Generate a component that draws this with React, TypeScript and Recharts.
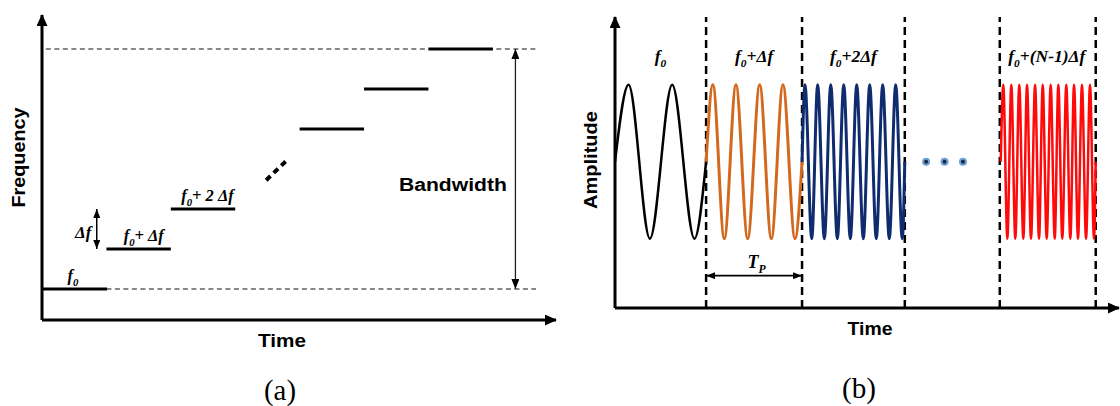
import React from 'react';
import { LineChart, Line, XAxis, YAxis, ReferenceLine, ReferenceDot } from 'recharts';

// ---------- Panel (a): stepped frequency vs time ----------
const stepStart = [0, 1, 2, 4, 5, 6];
const stepEnd = [1.01, 2, 3, 5, 6, 7];
const stepLevel = [0, 1, 2, 4, 5, 6];
const stepLabels = ['f_0', 'f_0+ Δf', 'f_0+ 2 Δf', '', '', ''];
const stepLabelT = [0.48, 1.58, 2.57, 0, 0, 0];
const bandLow = 0;
const bandHigh = 6;
const guideTopStart = 0.06;
const guideLowStart = 1;
const guideEnd = 7.67;
const bandwidthT = 7.35;
const bandwidthLabelPos = { t: 6.38, f: 2.6 };
const deltaArrowT = 0.85;
const deltaLabelPos = { t: 0.64, f: 1.5 };
const ellipsisFrom = { t: 3.48, f: 2.72 };
const ellipsisTo = { t: 3.79, f: 3.2 };

// ---------- Panel (b): amplitude vs time ----------
const blackT = [0, 0.14, 0.36, 0.59, 0.82, 0.94];
const blackA = [0, 1, -1, 1, -1, 0];
const orangeT = [0.94, 1.01, 1.128, 1.248, 1.369, 1.493, 1.613, 1.733, 1.857, 1.93];
const orangeA = [0, 1, -1, 1, -1, 1, -1, 1, -1, 0];
const blueT = [1.93, 1.96, 2.03, 2.091, 2.16, 2.226, 2.294, 2.36, 2.428, 2.494, 2.562, 2.628, 2.696, 2.762, 2.83, 2.896, 2.964, 2.99];
const blueA = [0, 1, -1, 1, -1, 1, -1, 1, -1, 1, -1, 1, -1, 1, -1, 1, -1, 0];
const redT = [3.98, 4.006, 4.048, 4.089, 4.13, 4.171, 4.213, 4.251, 4.292, 4.334, 4.375, 4.413, 4.454, 4.495, 4.537, 4.574, 4.615, 4.656, 4.698, 4.736, 4.777, 4.818, 4.86, 4.901, 4.942, 4.96];
const redA = [0, 1, -1, 1, -1, 1, -1, 1, -1, 1, -1, 1, -1, 1, -1, 1, -1, 1, -1, 1, -1, 1, -1, 1, -1, 0];
const pulseBoundaries = [0.94, 1.93, 2.99, 3.97, 4.96];
const pulseLabelT = [0.47, 1.435, 2.46, 4.455];
const pulseLabels = ['f_0', 'f_0+Δf', 'f_0+2Δf', 'f_0+(N-1)Δf'];
const pulseLabelA = 1.3;
const tpFrom = 0.94;
const tpTo = 1.93;
const tpA = -1.48;
const tpLabelT = 1.46;
const dotsT = [3.21, 3.4, 3.59];

const SERIF = '"Liberation Serif", "Times New Roman", serif';
const SANS = '"Liberation Sans", Arial, sans-serif';

const toPts = (ts: number[], as: number[]) => ts.map((t, i) => ({ t, a: as[i] }));
const blackData = toPts(blackT, blackA);
const orangeData = toPts(orangeT, orangeA);
const blueData = toPts(blueT, blueA);
const redData = toPts(redT, redA);

function MathText({ x, y, label, fs, anchor = 'middle' }: any) {
  const parts: { s: string; sub?: boolean }[] = [];
  let buf = '';
  for (let i = 0; i < label.length; i++) {
    if (label[i] === '_') {
      if (buf) parts.push({ s: buf });
      buf = '';
      parts.push({ s: label[i + 1], sub: true });
      i++;
    } else buf += label[i];
  }
  if (buf) parts.push({ s: buf });
  const shift = fs * 0.28;
  let cur = 0;
  return (
    <text x={x} y={y} textAnchor={anchor} fontFamily={SERIF} fontStyle="italic" fontWeight="bold" fontSize={fs} fill="#000">
      {parts.map((p, k) => {
        const target = p.sub ? shift : 0;
        const dy = target - cur;
        cur = target;
        return (
          <tspan key={k} dy={dy} fontSize={p.sub ? fs * 0.65 : fs}>
            {p.s}
          </tspan>
        );
      })}
    </text>
  );
}

const textDot = (render: (cx: number, cy: number) => any) => (p: any) => render(p.cx, p.cy);

function Defs() {
  return (
    <svg width={0} height={0} style={{ position: 'absolute' }}>
      <defs>
        <marker id="axArrow" viewBox="0 0 12 11" refX={11} refY={5.5} markerWidth={12} markerHeight={11} orient="auto-start-reverse" markerUnits="userSpaceOnUse">
          <path d="M0,0 L12,5.5 L0,11 Z" fill="#000" />
        </marker>
        <marker id="bwArrow" viewBox="0 0 10 8" refX={10} refY={4} markerWidth={10} markerHeight={8} orient="auto-start-reverse" markerUnits="userSpaceOnUse">
          <path d="M0,0 L10,4 L0,8 Z" fill="#000" />
        </marker>
        <marker id="smArrow" viewBox="0 0 9 7" refX={9} refY={3.5} markerWidth={9} markerHeight={7} orient="auto-start-reverse" markerUnits="userSpaceOnUse">
          <path d="M0,0 L9,3.5 L0,7 Z" fill="#000" />
        </marker>
      </defs>
    </svg>
  );
}

function PanelA() {
  return (
    <LineChart width={560} height={406} margin={{ top: 15, right: 4, bottom: 56, left: 0 }}>
      <XAxis
        dataKey="t"
        type="number"
        domain={[0, 7.98]}
        allowDataOverflow
        tick={false}
        tickLine={false}
        height={30}
        axisLine={{ stroke: '#000', strokeWidth: 3, markerEnd: 'url(#axArrow)' } as any}
        label={(props: any) => {
          const vb = props.viewBox || { x: 42, y: 320, width: 514, height: 30 };
          return (
            <g>
              <text x={vb.x + 240} y={vb.y + 27} textAnchor="middle" fontFamily={SANS} fontWeight="bold" fontSize={18} textLength={48} lengthAdjust="spacingAndGlyphs" fill="#000">Time</text>
              <text x={vb.x + 238} y={vb.y + 80} textAnchor="middle" fontFamily={SERIF} fontSize={29} textLength={32} lengthAdjust="spacingAndGlyphs" fill="#000">(a)</text>
            </g>
          );
        }}
      />
      <YAxis
        type="number"
        domain={[-0.775, 6.85]}
        allowDataOverflow
        width={42}
        tick={false}
        tickLine={false}
        axisLine={{ stroke: '#000', strokeWidth: 3, markerStart: 'url(#axArrow)' } as any}
        label={(props: any) => {
          const vb = props.viewBox || { x: 0, y: 15, width: 42, height: 305 };
          const x = vb.x + 25;
          const y = vb.y + vb.height / 2 - 10;
          return (
            <text x={x} y={y} transform={`rotate(-90 ${x} ${y})`} textAnchor="middle" fontFamily={SANS} fontWeight="bold" fontSize={18} textLength={100} lengthAdjust="spacingAndGlyphs" fill="#000">Frequency</text>
          );
        }}
      />
      {/* guide dashed lines */}
      <ReferenceLine segment={[{ x: guideTopStart, y: bandHigh }, { x: guideEnd, y: bandHigh }]} stroke="#111" strokeWidth={1.1} strokeDasharray="5 3.5" />
      <ReferenceLine segment={[{ x: guideLowStart, y: bandLow }, { x: guideEnd, y: bandLow }]} stroke="#111" strokeWidth={1.1} strokeDasharray="5 3.5" />
      {/* steps */}
      {stepStart.map((s, i) => (
        <ReferenceLine key={`s${i}`} segment={[{ x: s, y: stepLevel[i] }, { x: stepEnd[i], y: stepLevel[i] }]} stroke="#000" strokeWidth={3} />
      ))}
      {/* ellipsis */}
      <ReferenceLine segment={[{ x: ellipsisFrom.t, y: ellipsisFrom.f }, { x: ellipsisTo.t, y: ellipsisTo.f }]} stroke="#000" strokeWidth={4} strokeDasharray="6 4.5" />
      {/* bandwidth arrow */}
      <ReferenceLine
        segment={[{ x: bandwidthT, y: bandLow }, { x: bandwidthT, y: bandHigh }]}
        stroke="#222"
        strokeWidth={1.3}
        {...({ markerStart: 'url(#bwArrow)', markerEnd: 'url(#bwArrow)' } as any)}
      />
      {/* delta f arrow */}
      <ReferenceLine
        segment={[{ x: deltaArrowT, y: 1 }, { x: deltaArrowT, y: 2 }]}
        stroke="#000"
        strokeWidth={1.5}
        {...({ markerStart: 'url(#smArrow)', markerEnd: 'url(#smArrow)' } as any)}
      />
      {stepLabels.map((lab, i) =>
        lab ? (
          <ReferenceDot key={`l${i}`} x={stepLabelT[i]} y={stepLevel[i]} r={0} ifOverflow="visible" shape={textDot((cx, cy) => <MathText x={cx} y={cy - 8} label={lab} fs={16.5} />)} />
        ) : null
      )}
      <ReferenceDot x={deltaLabelPos.t} y={deltaLabelPos.f} r={0} ifOverflow="visible" shape={textDot((cx, cy) => <MathText x={cx} y={cy + 9} label="Δf" fs={17} />)} />
      <ReferenceDot
        x={bandwidthLabelPos.t}
        y={bandwidthLabelPos.f}
        r={0}
        ifOverflow="visible"
        shape={textDot((cx, cy) => (
          <text x={cx} y={cy + 6} textAnchor="middle" fontFamily={SANS} fontWeight="bold" fontSize={18} textLength={108} lengthAdjust="spacingAndGlyphs" fill="#000">Bandwidth</text>
        ))}
      />
    </LineChart>
  );
}

function PanelB() {
  return (
    <LineChart width={560} height={406} margin={{ top: 17, right: 1, bottom: 68, left: 0 }}>
      <XAxis
        dataKey="t"
        type="number"
        domain={[0, 5.2]}
        allowDataOverflow
        tick={false}
        tickLine={false}
        height={30}
        axisLine={{ stroke: '#000', strokeWidth: 3, markerEnd: 'url(#axArrow)' } as any}
        label={(props: any) => {
          const vb = props.viewBox || { x: 55, y: 308, width: 504, height: 30 };
          return (
            <g>
              <text x={vb.x + 255} y={vb.y + 27} textAnchor="middle" fontFamily={SANS} fontWeight="bold" fontSize={18} textLength={45} lengthAdjust="spacingAndGlyphs" fill="#000">Time</text>
              <text x={vb.x + 244} y={vb.y + 90} textAnchor="middle" fontFamily={SERIF} fontSize={29} textLength={34} lengthAdjust="spacingAndGlyphs" fill="#000">(b)</text>
            </g>
          );
        }}
      />
      <YAxis
        type="number"
        domain={[-1.9, 1.88]}
        allowDataOverflow
        width={55}
        tick={false}
        tickLine={false}
        axisLine={{ stroke: '#000', strokeWidth: 3, markerStart: 'url(#axArrow)' } as any}
        label={(props: any) => {
          const vb = props.viewBox || { x: 0, y: 17, width: 55, height: 291 };
          const x = vb.x + 37;
          const y = vb.y + 143;
          return (
            <text x={x} y={y} transform={`rotate(-90 ${x} ${y})`} textAnchor="middle" fontFamily={SANS} fontWeight="bold" fontSize={18} textLength={98} lengthAdjust="spacingAndGlyphs" fill="#000">Amplitude</text>
          );
        }}
      />
      {pulseBoundaries.map((b, i) => (
        <ReferenceLine key={`b${i}`} x={b} stroke="#000" strokeWidth={2.5} strokeDasharray="8 5" />
      ))}
      <Line data={blackData} dataKey="a" type="monotoneX" stroke="#000" strokeWidth={2.5} dot={false} isAnimationActive={false} />
      <Line data={orangeData} dataKey="a" type="monotoneX" stroke="#d2691e" strokeWidth={3} dot={false} isAnimationActive={false} />
      <Line data={blueData} dataKey="a" type="monotoneX" stroke="#0f2d6e" strokeWidth={3} dot={false} isAnimationActive={false} />
      <Line data={redData} dataKey="a" type="monotoneX" stroke="#ff0a0a" strokeWidth={2.5} dot={false} isAnimationActive={false} />
      {pulseLabels.map((lab, i) => (
        <ReferenceDot key={`p${i}`} x={pulseLabelT[i]} y={pulseLabelA} r={0} shape={textDot((cx, cy) => <MathText x={cx} y={cy} label={lab} fs={17.5} />)} />
      ))}
      <ReferenceLine
        segment={[{ x: tpFrom, y: tpA }, { x: tpTo, y: tpA }]}
        stroke="#000"
        strokeWidth={1.8}
        {...({ markerStart: 'url(#smArrow)', markerEnd: 'url(#smArrow)' } as any)}
      />
      <ReferenceDot x={tpLabelT} y={tpA} r={0} shape={textDot((cx, cy) => <MathText x={cx} y={cy - 7.5} label="T_P" fs={18} />)} />
      {dotsT.map((t, i) => (
        <ReferenceDot key={`d${i}`} x={t} y={0} r={3} fill="#1b2a44" stroke="#6d9fd6" strokeWidth={2} />
      ))}
    </LineChart>
  );
}

export default function App() {
  return (
    <div style={{ position: 'absolute', left: 0, top: 0, width: 1120, height: 406, background: '#fff' }}>
      <Defs />
      <div style={{ position: 'absolute', left: 0, top: 0 }}>
        <PanelA />
      </div>
      <div style={{ position: 'absolute', left: 560, top: 0 }}>
        <PanelB />
      </div>
    </div>
  );
}
